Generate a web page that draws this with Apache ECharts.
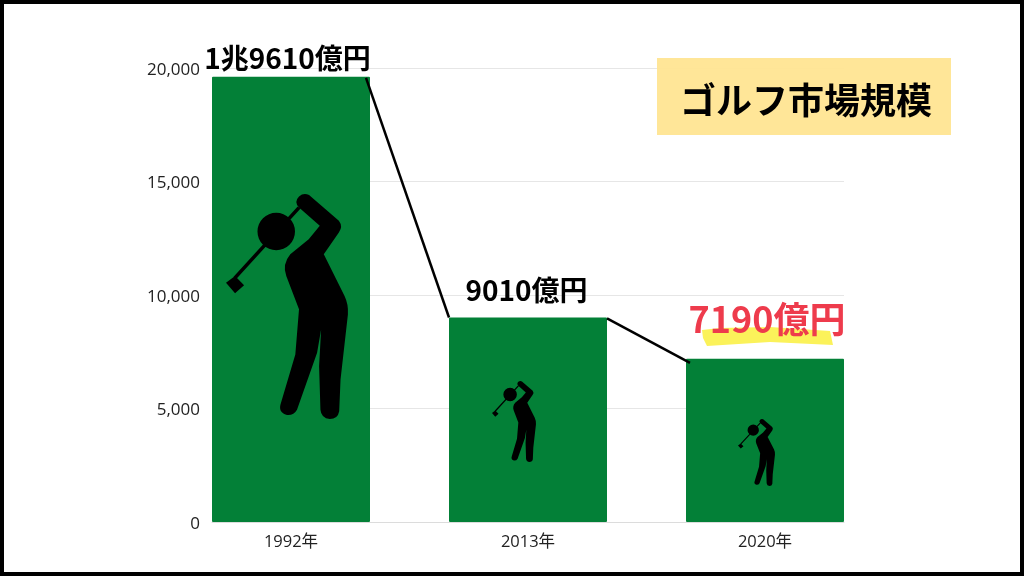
<!DOCTYPE html>
<html><head><meta charset="utf-8">
<style>html,body{margin:0;padding:0;background:#fff}#c{width:1024px;height:576px}</style>
<script src="https://cdn.jsdelivr.net/npm/echarts@6/dist/echarts.min.js"></script>
</head><body><div id="c"></div>
<script>
const categories = ['1992年','2013年','2020年'];
const marketValues = [19610,9010,7190];
const valueLabels = ['1兆9610億円','9010億円','7190億円'];
const chartTitle = 'ゴルフ市場規模';
const yMax = 20000, yStep = 5000;

const GREEN='#038037', CJK='"Noto Sans CJK JP","Noto Sans",sans-serif', AX='"Open Sans","Noto Sans CJK JP",sans-serif';
const GOLFER='M296,52 Q310,40 326,48 L415,125 Q428,142 415,160 L370,225 L432,350 Q444,375 442,405 L420,600 L416,695 Q412,718 388,718 Q362,715 360,690 L356,560 L362,450 L350,520 L290,690 Q280,708 260,706 Q232,698 242,670 L285,525 L296,390 L258,290 Q245,255 270,225 L325,180 L358,140 L296,85 Q280,68 296,52 Z '
 +'M292,82 L300,89 L108,300 L100,293 Z '
 +'M105,290 L132,318 L105,342 L78,310 Z '
 +'M172,157 A56,56 0 1,1 284,157 A56,56 0 1,1 172,157 Z';
const golferBox=[{dx:-65,y:194,w:122,h:225},{dx:-36,y:381,w:44,h:81},{dx:-27,y:419,w:37,h:67}];
const labelStyle=[
 {size:28,color:'#000',dx:-3.5,dy:-4},
 {size:28,color:'#000',dx:-1.5,dy:-13},
 {size:36,color:'#EE3B4C',dx:2,dy:-21}];
const gridV={top:68,bottom:54};

const chart=echarts.init(document.getElementById('c'),null,{renderer:'canvas'});
chart.setOption({
 animation:false,backgroundColor:'#fff',
 grid:[{left:172.5,width:711,...gridV},{left:212,width:632,...gridV},{left:212,width:632,top:70,bottom:52}],
 xAxis:[
  {type:'category',gridIndex:0,data:categories,axisLine:{show:false},axisTick:{show:false},
   axisLabel:{fontFamily:AX,fontSize:16.5,color:'#222',margin:12}},
  {type:'category',gridIndex:1,data:categories,axisLine:{show:true,lineStyle:{color:'#dcdcdc'}},axisTick:{show:false},axisLabel:{show:false}},
  {type:'category',gridIndex:2,data:categories,show:false}],
 yAxis:[
  {type:'value',gridIndex:0,min:0,max:yMax,interval:yStep,show:false},
  {type:'value',gridIndex:1,min:0,max:yMax,interval:yStep,axisLine:{show:false},axisTick:{show:false},
   splitLine:{lineStyle:{color:'#e6e6e6'}},axisLabel:{show:false}},
  {type:'value',gridIndex:2,min:0,max:yMax,interval:yStep,axisLine:{show:false},axisTick:{show:false},splitLine:{show:false},
   axisLabel:{fontFamily:AX,fontSize:17,color:'#222',margin:12,formatter:v=>v.toLocaleString('en-US')}}],
 series:[
  {type:'bar',xAxisIndex:0,yAxisIndex:0,barWidth:158,
   itemStyle:{color:GREEN,borderRadius:1},
   data:marketValues.map((v,i)=>({value:v,label:{show:true,position:'top',distance:0,formatter:valueLabels[i],
     fontFamily:CJK,fontWeight:'bold',fontSize:labelStyle[i].size,color:labelStyle[i].color,
     offset:[labelStyle[i].dx,labelStyle[i].dy]}}))},
  {type:'custom',xAxisIndex:0,yAxisIndex:0,z:4,silent:true,data:marketValues.map((v,i)=>[i,v]),
   renderItem(p,api){
    const i=api.value(0),c=api.coord([i,api.value(1)]),b=golferBox[i];
    const kids=[{type:'path',shape:{pathData:GOLFER,layout:'cover',x:c[0]+b.dx,y:b.y,width:b.w,height:b.h},style:{fill:'#000'}}];
    if(i<marketValues.length-1){
     const n=api.coord([i+1,marketValues[i+1]]);
     kids.push({type:'line',shape:{x1:c[0]+79-(i?0:4),y1:c[1]+1,x2:n[0]-79+(i?4:0),y2:n[1]+(i?4:0)},style:{stroke:'#000',lineWidth:2.5}});
    }
    return {type:'group',children:kids};
   }}
 ],
 graphic:[
  {type:'rect',z:1,shape:{x:657,y:58,width:294,height:77},style:{fill:'#FFE594',opacity:0.96}},
  {type:'text',z:5,x:680,y:100,style:{text:chartTitle,fontFamily:CJK,fontWeight:'bold',fontSize:36,fill:'#000',verticalAlign:'middle'}},
  {type:'polygon',z:1,shape:{points:[[702,330],[720,328],[770,327],[830,331],[833,345],[770,342],[707,346],[703,338]]},style:{fill:'#FBF25A'}},
  {type:'rect',z:10,shape:{x:2,y:2,width:1020,height:572},style:{fill:'none',stroke:'#000',lineWidth:4}}
 ]
});
</script></body></html>
